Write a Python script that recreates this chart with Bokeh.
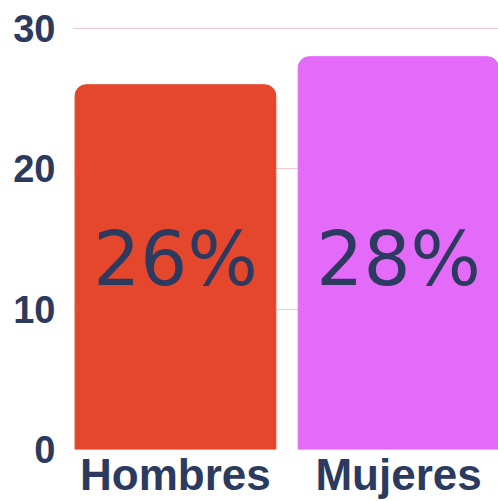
from bokeh.plotting import figure
from bokeh.models import ColumnDataSource, Range1d, FixedTicker
from bokeh.core.properties import value
from bokeh.embed import file_html
from bokeh.resources import INLINE

categories = ["Hombres", "Mujeres"]
values = [26, 28]
labels = ["26%", "28%"]
colors = ["#E5472D", "#E46BFA"]
y_ticks = [0, 10, 20, 30]

xs = [i + 0.5 for i in range(len(categories))]
label_y = [min(values) / 2] * len(values)

src = ColumnDataSource(dict(x=xs, top=values, label=labels, color=colors, ly=label_y))

p = figure(width=498, height=501, output_backend="svg", toolbar_location=None,
           x_range=Range1d(0.043, 1.948), y_range=Range1d(0, 30.08),
           min_border_left=73, min_border_right=0, min_border_top=27, min_border_bottom=51)
p.outline_line_color = None
p.background_fill_color = "white"
p.border_fill_color = "white"

p.vbar(x="x", top="top", width=0.9, bottom=0, color="color", source=src,
       border_radius=(11, 11, 0, 0))

p.text(x="x", y="ly", text="label", source=src, text_align="center",
       text_baseline="middle", text_font=value("DejaVu Sans"), text_font_size="74px",
       text_color="#2B3A5E", y_offset=-8)

navy = "#2B3A5E"
p.yaxis.ticker = FixedTicker(ticks=y_ticks)
p.yaxis.axis_line_color = None
p.yaxis.major_tick_line_color = None
p.yaxis.minor_tick_line_color = None
p.yaxis.major_tick_out = 0
p.yaxis.major_tick_in = 0
p.yaxis.minor_tick_out = 0
p.yaxis.major_label_text_font = "Liberation Sans"
p.yaxis.major_label_text_font_style = "bold"
p.yaxis.major_label_text_font_size = "38px"
p.yaxis.major_label_text_color = navy
p.yaxis.major_label_standoff = 18

p.xaxis.ticker = FixedTicker(ticks=xs)
p.xaxis.major_label_overrides = {x: c for x, c in zip(xs, categories)}
p.xaxis.axis_line_color = None
p.xaxis.major_tick_line_color = None
p.xaxis.minor_tick_line_color = None
p.xaxis.major_tick_out = 0
p.xaxis.major_tick_in = 0
p.xaxis.minor_tick_out = 0
p.xaxis.major_label_text_font = "Liberation Sans"
p.xaxis.major_label_text_font_style = "bold"
p.xaxis.major_label_text_font_size = "44px"
p.xaxis.major_label_text_color = navy
p.xaxis.major_label_standoff = 0

p.xgrid.grid_line_color = None
p.ygrid.ticker = FixedTicker(ticks=y_ticks)
p.ygrid.grid_line_color = "#F0C8D8"
p.ygrid.grid_line_width = 1

open("out.html", "w").write(file_html(p, INLINE))
